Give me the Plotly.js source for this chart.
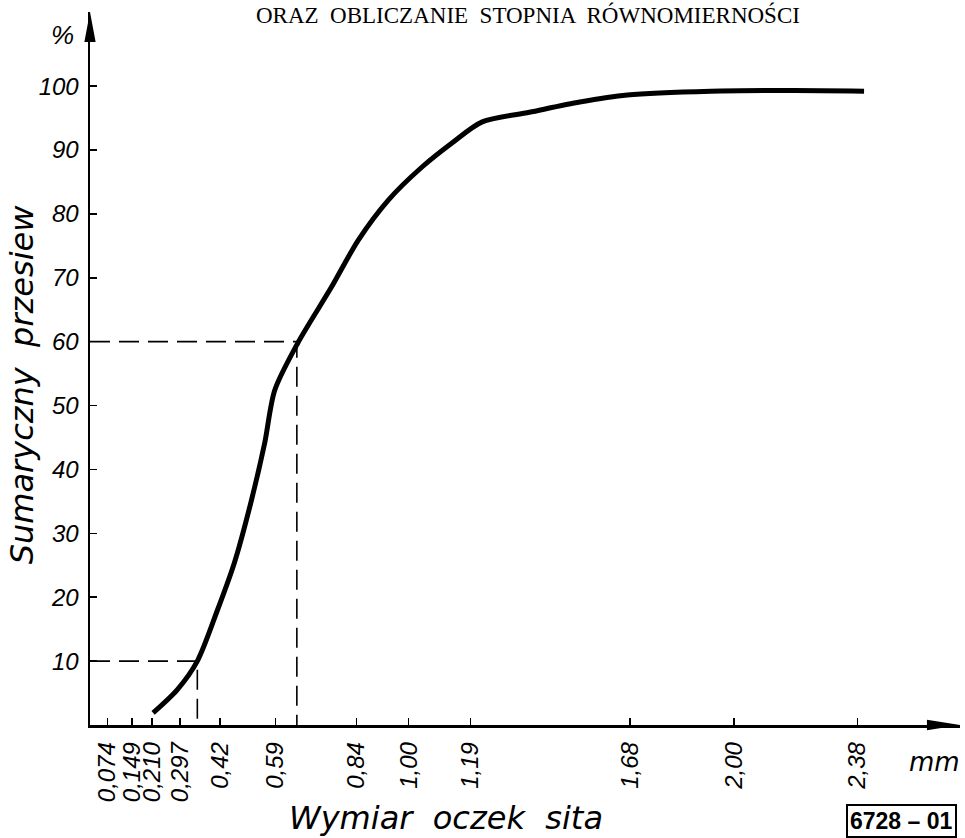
<!DOCTYPE html>
<html>
<head>
<meta charset="utf-8">
<script src="https://cdn.plot.ly/plotly-3.0.1.min.js"></script>
<style>body{margin:0;background:#fff;}</style>
</head>
<body>
<div id="chart" style="width:965px;height:838px;"></div>
<script>
// Sieve opening (mm) and cumulative passing (%)
const sieveMm = [0.214, 0.288, 0.35, 0.412, 0.464, 0.514, 0.557, 0.588, 0.659, 0.762, 0.845, 0.938, 1.04, 1.133, 1.226, 1.371, 1.526, 1.672, 1.929, 2.186, 2.40];
const passingPct = [1.9, 5.5, 10.0, 18.0, 25.4, 34.7, 44.1, 52.4, 59.8, 68.5, 75.9, 82.2, 87.3, 91.1, 94.4, 95.9, 97.5, 98.6, 99.2, 99.3, 99.2];

// Characteristic diameters
const d10 = 0.35, p10 = 10;
const d60 = 0.656, p60 = 60;

// Axis ticks
const xTickVals = [0.074, 0.149, 0.210, 0.297, 0.42, 0.59, 0.84, 1.00, 1.19, 1.68, 2.00, 2.38];
const xTickText = ["0,074", "0,149", "0,210", "0,297", "0,42", "0,59", "0,84", "1,00", "1,19", "1,68", "2,00", "2,38"];
const yTickVals = [10, 20, 30, 40, 50, 60, 70, 80, 90, 100];
const yTickText = ["10", "20", "30", "40", "50", "60", "70", "80", "90", "100"];

const xRange = [0.02, 2.695];
const yRange = [0, 111.6];

const tickFont = {family: "Liberation Sans, Arial, sans-serif", size: 24, color: "#000", style: "italic"};
const titleFont = {family: "DejaVu Sans, sans-serif", size: 32, color: "#000", style: "italic"};

const dashStyle = {color: "#000", width: 1.6, dash: "20px,9px"};

const traces = [
  {x: [xRange[0], d60, d60], y: [p60, p60, yRange[0]], mode: "lines", line: dashStyle, hoverinfo: "skip", showlegend: false},
  {x: [xRange[0], d10, d10], y: [p10, p10, yRange[0]], mode: "lines", line: dashStyle, hoverinfo: "skip", showlegend: false},
  {x: sieveMm, y: passingPct, mode: "lines", line: {color: "#000", width: 5, shape: "spline", smoothing: 0.8}, showlegend: false}
];

const layout = {
  width: 965, height: 838,
  margin: {l: 90, r: 5, t: 12, b: 113},
  paper_bgcolor: "#fff", plot_bgcolor: "#fff",
  showlegend: false,
  xaxis: {
    range: xRange, showgrid: false, zeroline: false,
    showline: true, linecolor: "#000", linewidth: 2.5,
    ticks: "inside", ticklen: 7, tickwidth: 1.5, tickcolor: "#000",
    tickmode: "array", tickvals: xTickVals, ticktext: xTickText,
    tickangle: -90, tickfont: tickFont, ticklabelstandoff: 5
  },
  yaxis: {
    range: yRange, showgrid: false, zeroline: false,
    showline: true, linecolor: "#000", linewidth: 2.5,
    ticks: "inside", ticklen: 7, tickwidth: 1.5, tickcolor: "#000",
    tickmode: "array", tickvals: yTickVals, ticktext: yTickText,
    tickfont: tickFont, ticklabelstandoff: 4
  },
  shapes: [
    {type: "path", xref: "paper", yref: "paper", path: "M -0.0065 0.958 L 0 1.0 L 0.0065 0.958 Z", fillcolor: "#000", line: {width: 0}},
    {type: "path", xref: "paper", yref: "paper", path: "M 0.962 -0.0075 L 1.0 0 L 0.962 0.0075 Z", fillcolor: "#000", line: {width: 0}}
  ],
  annotations: [
    {text: "ORAZ  OBLICZANIE  STOPNIA  RÓWNOMIERNOŚCI", xref: "paper", yref: "paper", x: 0.503, y: 1.017, xanchor: "center", yanchor: "top", showarrow: false,
     font: {family: "Liberation Serif, serif", size: 23, color: "#000"}},
    {text: "Sumaryczny  przesiew", xref: "paper", yref: "paper", x: -0.078, y: 0.478, textangle: -90, xanchor: "center", yanchor: "middle", showarrow: false, font: titleFont},
    {text: "Wymiar  oczek  sita", xref: "paper", yref: "paper", x: 0.409, y: -0.130, xanchor: "center", yanchor: "middle", showarrow: false, font: titleFont},
    {text: "%", xref: "paper", yref: "paper", x: -0.032, y: 0.968, xanchor: "center", yanchor: "middle", showarrow: false, font: {family: "Liberation Sans, sans-serif", size: 26, color: "#000", style: "italic"}},
    {text: "mm", xref: "paper", yref: "paper", x: 0.971, y: -0.052, xanchor: "center", yanchor: "middle", showarrow: false, font: {family: "DejaVu Sans, sans-serif", size: 26, color: "#000", style: "italic"}},
    {text: "6728 – 01", xref: "paper", yref: "paper", x: 0.933, y: -0.134, xanchor: "center", yanchor: "middle", showarrow: false,
     font: {family: "Liberation Sans, sans-serif", size: 23, color: "#000", weight: "bold"}, bordercolor: "#000", borderwidth: 2, borderpad: 2, bgcolor: "#fff"}
  ]
};

Plotly.newPlot("chart", traces, layout, {displayModeBar: false, staticPlot: true});
</script>
</body>
</html>
